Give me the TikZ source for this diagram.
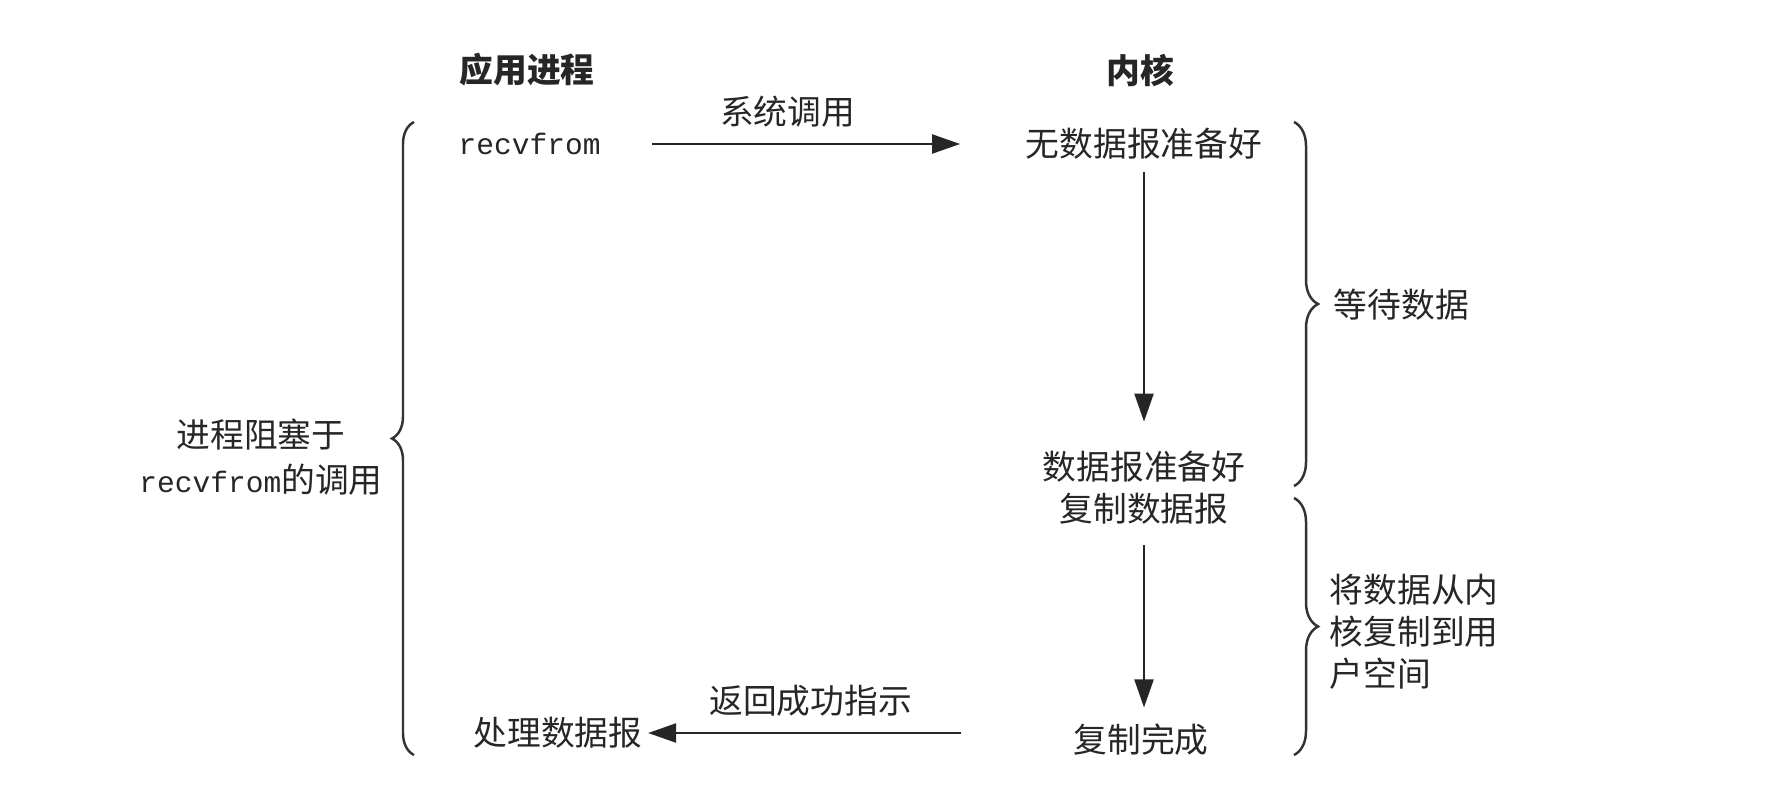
\documentclass[tikz,border=0pt]{standalone}
\usepackage{fontspec}
\setmainfont{Noto Sans CJK SC}
\newfontfamily\codefont{Liberation Mono}
\usepackage{tikz}
\usetikzlibrary{positioning}
\usetikzlibrary{arrows.meta,decorations.pathreplacing}

\newcommand{\rcvf}{{\codefont\fontsize{8.4}{10}\selectfont recvfrom}}

\begin{document}
\begin{tikzpicture}[x=0.01cm, y=-0.01cm,
	txt/.style={inner sep=0pt, text=black!85, font=\fontsize{9.6}{11.5}\selectfont},
	head/.style={txt, font=\fontsize{9.6}{11.5}\selectfont\bfseries},
	arr/.style={line width=0.65pt, draw=black!85, -{Triangle[length=0.28cm,width=0.19cm]}},
	lbrace/.style={line width=0.7pt, draw=black!80, decorate, decoration={brace, amplitude=0.22cm}},
	rbrace/.style={line width=0.7pt, draw=black!80, decorate, decoration={brace, amplitude=0.24cm}}]

	\useasboundingbox (0,0) rectangle (1773,809);

	% Column heads
	\node[head] (App)  at (527,70)  {应用进程};
	\node[head] (Kern) at (1140,70) {内核};

	% Application side
	\node[txt, anchor=west] (Recv) at (458,144) {\rcvf};
	\node[txt] (Handle) at (558,733) {处理数据报};

	% Kernel side
	\node[txt] (NoData) at (1144,144) {无数据报准备好};
	\node[txt] (Ready)  at (1144,467) {数据报准备好};
	\node[txt] (Copy)   at (1144,509) {复制数据报};
	\node[txt] (Done)   at (1141,740) {复制完成};

	% Calls between the two sides
	\draw[arr, shorten <=0.51cm, shorten >=0.65cm] (Recv.east) -- (NoData.west)
		node[txt, pos=0.44, above=0.15cm] (Call) {系统调用};
	\draw[arr, shorten <=1.12cm, shorten >=0.05cm] (Done.west |- Handle.east) -- (Handle.east)
		node[txt, pos=0.61, above=0.15cm] (Ret) {返回成功指示};

	% Kernel steps
	\draw[arr, shorten <=0.12cm, shorten >=0.29cm] (NoData) -- (Ready);
	\draw[arr, shorten <=0.20cm, shorten >=0.16cm] (Copy) -- (Copy |- Done.north);

	% Braces
	\coordinate (LB1) at (414,755);
	\coordinate (LB2) at (414,122);
	\coordinate (RB1) at (1294,122);
	\coordinate (RB2) at (1294,486);
	\coordinate (RB3) at (1294,498);
	\coordinate (RB4) at (1294,755);

	\draw[lbrace] (LB1) -- (LB2);
	\draw[rbrace] (RB1) -- (RB2);
	\draw[rbrace] (RB3) -- (RB4);

	% Brace labels
	\node[txt, align=center, font=\fontsize{9.6}{13}\selectfont] (Block) at (261,457)
		{进程阻塞于\\\rcvf 的调用};
	\node[txt, anchor=west] (Wait) at (1333,305) {等待数据};
	\node[txt, anchor=west, align=left, font=\fontsize{9.6}{11.9}\selectfont] (Move) at (1329,632)
		{将数据从内\\核复制到用\\户空间};

\end{tikzpicture}
\end{document}
